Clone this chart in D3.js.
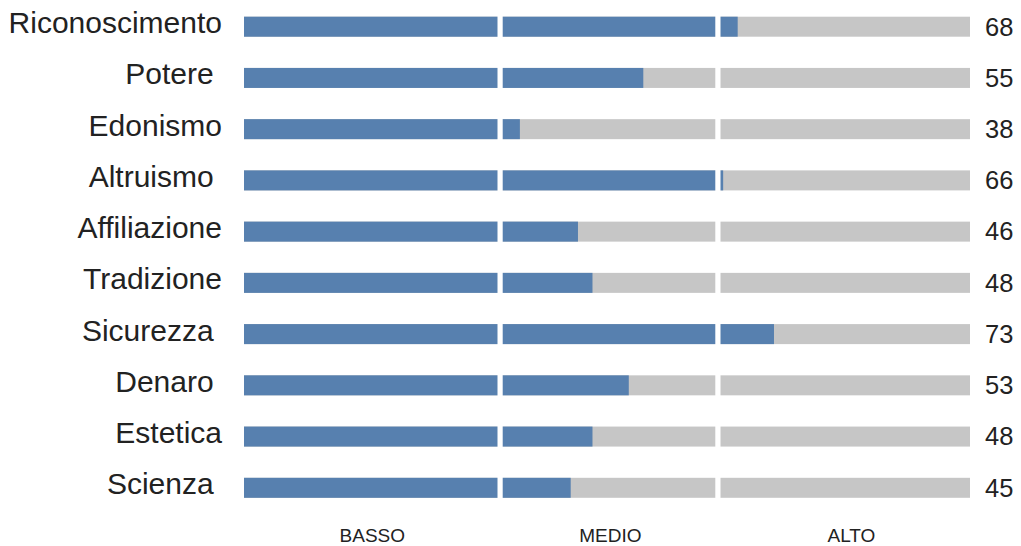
<!DOCTYPE html>
<html>
<head>
<meta charset="utf-8">
<script src="https://cdn.jsdelivr.net/npm/d3@7"></script>
<style>
	body { margin: 0; background: #fff; }
	text { font-family: "Liberation Sans", Arial, sans-serif; white-space: pre; }
</style>
</head>
<body>
<svg></svg>
<script>
// categories (some labels in the original carry a trailing space)
const categories = ['Riconoscimento', 'Potere ', 'Edonismo', 'Altruismo ', 'Affiliazione',
	'Tradizione', 'Sicurezza ', 'Denaro ', 'Estetica', 'Scienza '];
const scores = [68, 55, 38, 66, 46, 48, 73, 53, 48, 45];
const levelBreaks = [35, 65];
const levelLabels = ['BASSO', 'MEDIO', 'ALTO'];
const levelLabelAt = [17.6, 50.4, 83.6];

const svg = d3.select('svg')
	.attr('width', 1021)
	.attr('height', 546);

const data = categories.map((c, i) => ({ name: c, score: scores[i] }));

const xScale = d3.scaleLinear()
	.domain([0, 100])
	.range([244, 970]);

const yScale = d3.scalePoint()
	.domain(categories)
	.range([26.7, 487.8]);

const barH = 20,
	blue = '#5780af',
	grey = '#c6c6c6';

const rows = svg.selectAll('g.row')
	.data(data)
	.join('g')
	.attr('class', 'row')
	.attr('transform', d => `translate(0, ${yScale(d.name)})`);

// background track
rows.append('rect')
	.attr('x', xScale(0))
	.attr('y', -barH / 2)
	.attr('width', xScale(100) - xScale(0))
	.attr('height', barH)
	.attr('fill', grey);

// score bar
rows.append('rect')
	.attr('x', xScale(0))
	.attr('y', -barH / 2)
	.attr('width', d => xScale(d.score) - xScale(0))
	.attr('height', barH)
	.attr('fill', blue);

// white gaps between levels
levelBreaks.forEach(b => {
	rows.append('rect')
		.attr('x', xScale(b) - 0.6)
		.attr('y', -barH / 2 - 1)
		.attr('width', 5.2)
		.attr('height', barH + 2)
		.attr('fill', '#fff');
});

rows.append('text')
	.attr('x', 222)
	.attr('y', 6.4)
	.attr('text-anchor', 'end')
	.attr('font-size', 30)
	.attr('fill', '#222')
	.text(d => d.name);

rows.append('text')
	.attr('x', 985)
	.attr('y', 8.8)
	.attr('font-size', 25.5)
	.attr('fill', '#222')
	.text(d => d.score);

const xAxis = d3.axisBottom(xScale)
	.tickValues(levelLabelAt)
	.tickFormat((d, i) => levelLabels[i])
	.tickSize(0)
	.tickPadding(0);

const xAxisG = svg.append('g')
	.attr('transform', 'translate(0, 542)')
	.call(xAxis);

xAxisG.select('.domain').remove();
xAxisG.selectAll('text')
	.attr('font-family', '"Liberation Sans", Arial, sans-serif')
	.attr('font-size', 19)
	.attr('fill', '#222')
	.attr('dy', 0);
</script>
</body>
</html>
